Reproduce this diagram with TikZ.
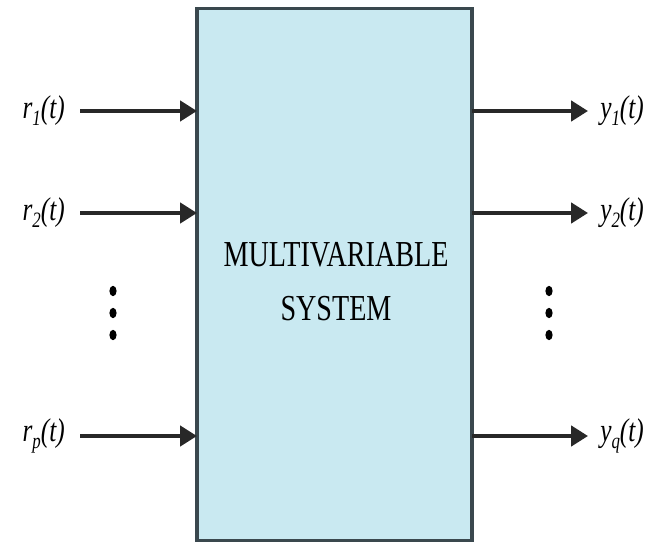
\documentclass[tikz,border=0pt]{standalone}
\usepackage{fontspec}
\setmainfont{Liberation Serif}
\usetikzlibrary{arrows.meta}

\definecolor{sysfill}{RGB}{201,233,241}
\definecolor{sysedge}{RGB}{58,72,78}
\definecolor{wire}{RGB}{40,40,40}

% lowered subscript for the signal names
\newcommand{\sigsub}[1]{\raisebox{-0.45ex}{\fontsize{12}{12}\selectfont #1}}

\tikzset{
  sysbox/.style={draw=sysedge, fill=sysfill, line width=2.2pt, inner sep=0pt, outer sep=0pt},
  sig/.style={draw=wire, line width=2.8pt, -{Triangle[length=0.42cm,width=0.5cm]}},
  lbl/.style={font=\fontsize{18}{20}\selectfont\itshape, inner sep=0pt, yscale=1.3}
}

\begin{document}
\begin{tikzpicture}[x=0.025cm, y=-0.025cm]
    \useasboundingbox (0,0) rectangle (661,543);
    % the block itself
    \node[sysbox, minimum width=6.875cm, minimum height=13.275cm] (sys) at (334.5,274.5) {};
    \node[align=center, font=\fontsize{20}{29.5}\selectfont, yscale=1.3] (name) at (336,282) {MULTIVARIABLE\\SYSTEM};

    % inputs r_1 ... r_p
    \foreach \y/\s in {111/1, 213/2, 436/p} {
        \node[lbl, anchor=east] (r\s) at (65,\y) {r\sigsub{\s}(t)};
        \draw[sig] ([xshift=0.38cm]r\s.east) -- (r\s.east -| sys.west);
    }
    % outputs y_1 ... y_q
    \foreach \y/\s in {111/1, 213/2, 436/q} {
        \node[lbl, anchor=west] (y\s) at (600,\y) {y\sigsub{\s}(t)};
        \draw[sig] (y\s.west -| sys.east) -- ([xshift=-0.3cm]y\s.west);
    }

    % vertical dots between rows
    \foreach \x in {113,549}
        \foreach \y in {291,313,335}
            \fill (\x,\y) ellipse [x radius=0.09cm, y radius=0.13cm];
\end{tikzpicture}
\end{document}
